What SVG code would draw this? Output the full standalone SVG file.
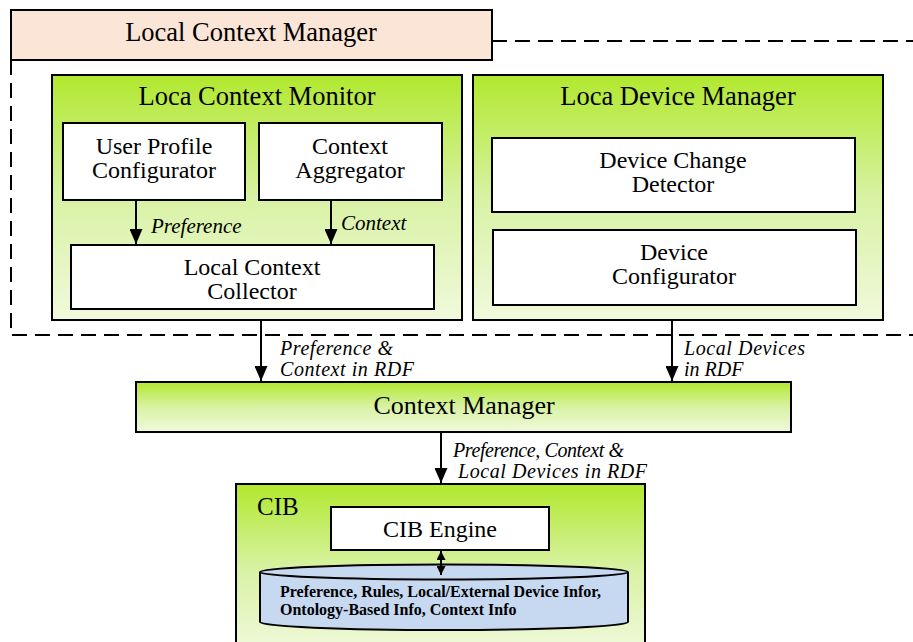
<svg xmlns="http://www.w3.org/2000/svg" width="913" height="642" viewBox="0 0 913 642">
<defs>
<linearGradient id="g" x1="0" y1="0" x2="0" y2="1">
<stop offset="0" stop-color="#b1e82e"/>
<stop offset="0.5" stop-color="#d8f2a4"/>
<stop offset="1" stop-color="#f1f9dc"/>
</linearGradient>
<marker id="ah" markerWidth="15" markerHeight="13" refX="15" refY="6.5" orient="auto" markerUnits="userSpaceOnUse">
<path d="M0,0 L15,6.5 L0,13 z" fill="#000"/>
</marker>
<marker id="ahs" markerWidth="9" markerHeight="9" refX="9" refY="4.5" orient="auto-start-reverse" markerUnits="userSpaceOnUse">
<path d="M0,0 L9,4.5 L0,9 z" fill="#000"/>
</marker>
<style>
text{font-family:"Liberation Serif","Times New Roman",serif;fill:#000;}
.big{font-size:26.5px;}
.mid{font-size:24px;}
.lab{font-size:21px;font-style:italic;}
.lab2{font-size:20px;font-style:italic;}
.grn{fill:url(#g);stroke:#000;stroke-width:2;}
.wht{fill:#fff;stroke:#000;stroke-width:2;}
.cn{stroke:#000;stroke-width:2;fill:none;}
</style>
</defs>
<rect width="913" height="642" fill="#fff"/>
<g id="dashed-boundary">
<path d="M492,41 H913 M11,60 V335 H913" fill="none" stroke="#000" stroke-width="2" stroke-dasharray="15,8"/>
</g>
<g id="local-context-manager">
<rect x="11" y="10" width="481" height="50" fill="#fbe5d6" stroke="#000" stroke-width="2"/>
<text class="big" x="251" y="41" text-anchor="middle">Local Context Manager</text>
</g>
<g id="loca-context-monitor">
<rect class="grn" x="52" y="75" width="410" height="245"/>
<text class="big" x="257" y="105" text-anchor="middle">Loca Context Monitor</text>
</g>
<g id="user-profile-configurator">
<rect class="wht" x="63" y="123" width="182" height="77"/>
<text class="mid" x="154" y="154" text-anchor="middle">User Profile</text>
<text class="mid" x="154" y="178" text-anchor="middle">Configurator</text>
</g>
<g id="context-aggregator">
<rect class="wht" x="259" y="123" width="183" height="77"/>
<text class="mid" x="350" y="154" text-anchor="middle">Context</text>
<text class="mid" x="350" y="178" text-anchor="middle">Aggregator</text>
</g>
<g id="local-context-collector">
<rect class="wht" x="71" y="245" width="363" height="64"/>
<text class="mid" x="252" y="275" text-anchor="middle">Local Context</text>
<text class="mid" x="252" y="299" text-anchor="middle">Collector</text>
</g>
<g id="loca-device-manager">
<rect class="grn" x="473" y="75" width="410" height="245"/>
<text class="big" x="678" y="105" text-anchor="middle">Loca Device Manager</text>
</g>
<g id="device-change-detector">
<rect class="wht" x="492" y="138" width="363" height="74"/>
<text class="mid" x="673" y="168" text-anchor="middle">Device Change</text>
<text class="mid" x="673" y="192" text-anchor="middle">Detector</text>
</g>
<g id="device-configurator">
<rect class="wht" x="493" y="230" width="363" height="75"/>
<text class="mid" x="674" y="260" text-anchor="middle">Device</text>
<text class="mid" x="674" y="284" text-anchor="middle">Configurator</text>
</g>
<g id="context-manager">
<rect class="grn" x="136" y="382" width="655" height="50"/>
<text x="464" y="414" text-anchor="middle" font-size="26">Context Manager</text>
</g>
<g id="cib">
<rect class="grn" x="236" y="484" width="409" height="170"/>
<text x="257" y="515" font-size="25">CIB</text>
</g>
<g id="cib-engine">
<rect class="wht" x="331" y="507" width="218" height="43"/>
<text class="mid" x="440" y="537" text-anchor="middle">CIB Engine</text>
</g>
<g id="cib-store">
<path d="M260,572 V622 A184,8 0 0 0 628,622 V572" fill="#c6d9f0" stroke="#000" stroke-width="2"/>
<ellipse cx="444" cy="572" rx="184" ry="7.5" fill="#c6d9f0" stroke="#000" stroke-width="2"/>
<text x="280" y="597" font-size="16" font-weight="bold">Preference, Rules, Local/External Device Infor,</text>
<text x="280" y="615" font-size="16" font-weight="bold">Ontology-Based Info, Context Info</text>
</g>
<g id="connectors">
<line class="cn" x1="136" y1="200" x2="136" y2="244" marker-end="url(#ah)"/>
<line class="cn" x1="331" y1="200" x2="331" y2="244" marker-end="url(#ah)"/>
<line class="cn" x1="261" y1="320" x2="261" y2="381" marker-end="url(#ah)"/>
<line class="cn" x1="672" y1="320" x2="672" y2="381" marker-end="url(#ah)"/>
<line class="cn" x1="441" y1="432" x2="441" y2="483" marker-end="url(#ah)"/>
<line class="cn" x1="441" y1="551" x2="441" y2="575" marker-start="url(#ahs)" marker-end="url(#ahs)"/>
<text class="lab" x="151" y="233">Preference</text>
<text class="lab" x="341" y="230">Context</text>
<text class="lab2" x="280" y="355" textLength="113" lengthAdjust="spacing">Preference &amp;</text>
<text class="lab2" x="280" y="376" textLength="134" lengthAdjust="spacing">Context in RDF</text>
<text class="lab2" x="684" y="355" textLength="121" lengthAdjust="spacing">Local Devices</text>
<text class="lab2" x="684" y="376">in RDF</text>
<text class="lab2" x="453" y="457" textLength="171" lengthAdjust="spacing">Preference, Context &amp;</text>
<text class="lab2" x="458" y="478" textLength="189" lengthAdjust="spacing">Local Devices in RDF</text>
</g>
</svg>
